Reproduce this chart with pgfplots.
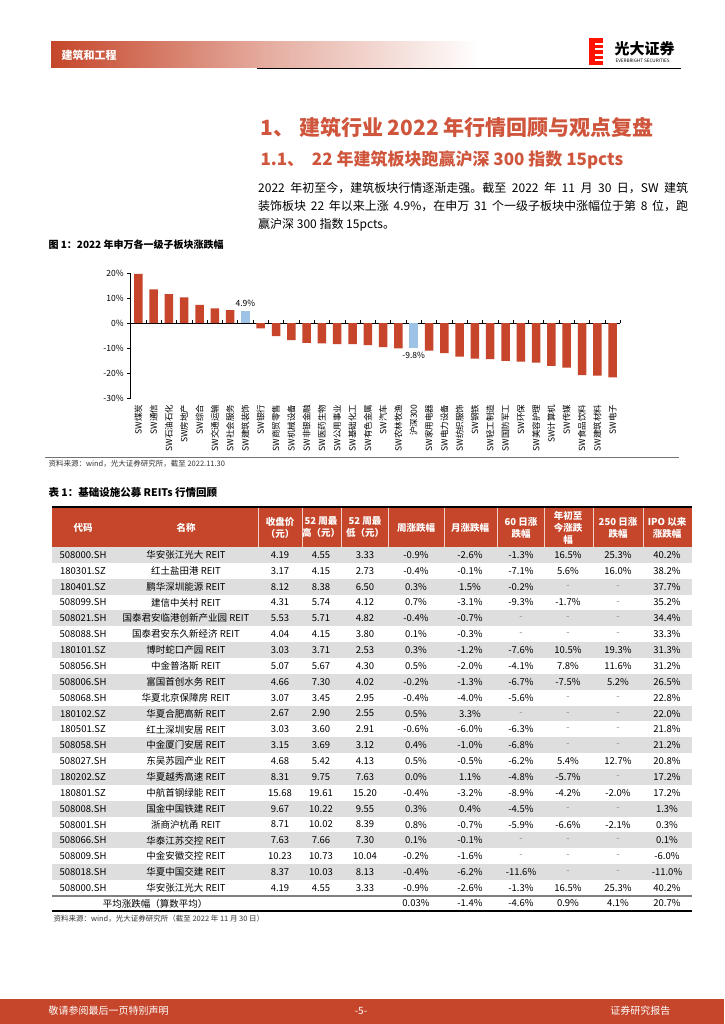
\documentclass[border=0pt]{standalone}
\usepackage{pgfplots}
\pgfplotsset{compat=1.18}
\usepackage{fontspec}
\setmainfont{Noto Sans CJK SC}
\XeTeXlinebreaklocale "zh"
\XeTeXlinebreakskip=0pt plus 1pt

\definecolor{barred}{RGB}{199,69,42}
\definecolor{barblue}{RGB}{157,195,230}
\definecolor{hdrred}{RGB}{197,70,42}
\definecolor{titlered}{RGB}{207,86,60}
\definecolor{rowgray}{RGB}{222,222,222}

\newcommand\fs[1]{\fontsize{#1}{#1}\selectfont}
\newcommand\NA{\textcolor{black!45}{-}}

\begin{document}
\begin{tikzpicture}[x=1pt,y=1pt]
\useasboundingbox (0,0) rectangle (724,-1024);
\fill[white] (0,0) rectangle (724,-1024);

% page header
\shade[left color=hdrred, right color=white, middle color=hdrred!45] (51,-42) rectangle (480,-68);
\node[anchor=west, text=white, font=\fs{11}\bfseries] at (58,-55) {建筑和工程};
\draw[line width=1pt] (257,-69) -- (681,-69);
\fill[red!85!orange] (589,-38) rectangle (603,-65);
\foreach \yy in {-43,-48.5,-54,-59.5}
  \fill[white] (595,\yy) rectangle (603,\yy-1.6);
\node[anchor=west, font=\fs{15}\bfseries] at (611,-49) {光大证券};
\node[anchor=west, font=\fs{4.6}] at (612,-60.5) {EVERBRIGHT SECURITIES};

% headings and text
\node[anchor=west, text=titlered, font=\fs{21}\bfseries] at (257,-128) {1、 建筑行业 2022 年行情回顾与观点复盘};
\node[anchor=west, text=titlered, font=\fs{17}\bfseries] at (257,-160) {1.1、\ \ 22 年建筑板块跑赢沪深 300 指数 15pcts};
\node[anchor=base west, font=\fs{12}, inner sep=0pt] at (258,-193) {\makebox[430pt][s]{2022 年初至今，建筑板块行情逐渐走强。截至 2022 年 11 月 30 日，SW 建筑}};
\node[anchor=base west, font=\fs{12}, inner sep=0pt] at (258,-211) {\makebox[430pt][s]{装饰板块 22 年以来上涨 4.9\%，在申万 31 个一级子板块中涨幅位于第 8 位，跑}};
\node[anchor=base west, font=\fs{12}, inner sep=0pt] at (258,-229) {赢沪深 300 指数 15pcts。};

% figure 1
\node[anchor=west, font=\fs{10}\bfseries] at (45,-245) {图 1：2022 年申万各一级子板块涨跌幅};

\begin{axis}[
  at={(138.3pt,-323pt)}, anchor=origin,
  scale only axis, width=489.6pt, height=125pt,
  xmin=-0.5, xmax=31.5, ymin=-30, ymax=20,
  enlargelimits=false, clip=false,
  axis x line=middle, axis y line=left,
  axis line style={-, black, line width=0.7pt},
  ytick={-30,-20,-10,0,10,20},
  yticklabels={-30\%,-20\%,-10\%,0\%,10\%,20\%},
  yticklabel style={font=\fs{8.5}, text=black},
  ytick style={black, line width=0.6pt},
  major tick length=3.5pt,
  tick align=outside,
  xtick={0,...,31},
  xticklabels={SW煤炭,SW通信,SW石油石化,SW房地产,SW综合,SW交通运输,SW社会服务,SW建筑装饰,SW银行,SW商贸零售,SW机械设备,SW非银金融,SW医药生物,SW公用事业,SW基础化工,SW有色金属,SW汽车,SW农林牧渔,沪深300,SW家用电器,SW电力设备,SW纺织服饰,SW钢铁,SW轻工制造,SW国防军工,SW环保,SW美容护理,SW计算机,SW传媒,SW食品饮料,SW建筑材料,SW电子},
  xticklabel style={rotate=90, anchor=east, font=\fs{8.5}, inner sep=1pt},
  xticklabel shift=77pt,
  xtick style={draw=none},
  extra x ticks={-0.5,0.5,...,31.5},
  extra x tick labels={},
  extra x tick style={xtick style={draw=black, line width=0.6pt}, tick align=inside},
  ybar, bar width=8.5pt,
]
\addplot[fill=barred, draw=none, bar shift=0pt] coordinates {
  (0,19.7) (1,13.5) (2,11.6) (3,10.3) (4,7.3) (5,5.9) (6,5.2)
  (8,-2.1) (9,-5.2) (10,-6.8) (11,-7.9) (12,-8.1) (13,-8.4) (14,-8.4)
  (15,-8.8) (16,-9.6) (17,-10.1) (19,-11.0) (20,-12.0) (21,-13.4)
  (22,-14.2) (23,-14.4) (24,-15.1) (25,-15.4) (26,-15.8) (27,-17.1)
  (28,-17.8) (29,-20.8) (30,-21.0) (31,-21.7)
};
\addplot[fill=barblue, draw=none, bar shift=0pt,
  nodes near coords, point meta=explicit symbolic,
  nodes near coords style={font=\fs{8.5}, text=black, anchor=south, yshift=1pt}] coordinates {
  (7,4.9) [4.9\%]
};
\addplot[fill=barblue, draw=none, bar shift=0pt,
  nodes near coords, point meta=explicit symbolic,
  nodes near coords style={font=\fs{8.5}, text=black, anchor=north, yshift=-1pt}] coordinates {
  (18,-9.8) [-9.8\%]
};
\end{axis}

\draw[black!55, line width=1pt] (45,-457) -- (679,-457);
\node[anchor=west, font=\fs{7.5}, text=black!80] at (45,-464) {资料来源：wind，光大证券研究所，截至 2022.11.30};

% table 1
\node[anchor=west, font=\fs{10.5}\bfseries] at (45,-493) {表 1：基础设施公募 REITs 行情回顾};
\fill[hdrred] (52,-507.5) rectangle (692,-547);
\draw[line width=1.3pt] (52,-507) -- (692,-507);
\foreach \xx in {258,302,341,388,444,497,544,593,643}
  \draw[white!75!hdrred, line width=0.6pt] (\xx,-508) -- (\xx,-547);
\begin{scope}[font=\fontsize{9.5}{12}\selectfont\bfseries, text=white, align=center]
\node at (83,-527.5) {代码};
\node at (186,-527.5) {名称};
\node at (280,-527.5) {收盘价\\（元）};
\node at (321,-527.5) {52 周最\\高（元）};
\node at (365,-527.5) {52 周最\\低（元）};
\node at (416,-527.5) {周涨跌幅};
\node at (470,-527.5) {月涨跌幅};
\node at (521,-527.5) {60 日涨\\跌幅};
\node at (568,-527.5) {年初至\\今涨跌\\幅};
\node at (618,-527.5) {250 日涨\\跌幅};
\node at (667,-527.5) {IPO 以来\\涨跌幅};
\end{scope}

\begin{scope}[font=\fs{9.5}]
\foreach \q/\ca/\cb/\cc/\cd/\ce/\cf/\cg/\ch/\ci/\cj/\ck in {
 1/508000.SH/华安张江光大 REIT/4.19/4.55/3.33/-0.9\%/-2.6\%/-1.3\%/16.5\%/25.3\%/40.2\%,
 2/180301.SZ/红土盐田港 REIT/3.17/4.15/2.73/-0.4\%/-0.1\%/-7.1\%/5.6\%/16.0\%/38.2\%,
 3/180401.SZ/鹏华深圳能源 REIT/8.12/8.38/6.50/0.3\%/1.5\%/-0.2\%/\NA/\NA/37.7\%,
 4/508099.SH/建信中关村 REIT/4.31/5.74/4.12/0.7\%/-3.1\%/-9.3\%/-1.7\%/\NA/35.2\%,
 5/508021.SH/国泰君安临港创新产业园 REIT/5.53/5.71/4.82/-0.4\%/-0.7\%/\NA/\NA/\NA/34.4\%,
 6/508088.SH/国泰君安东久新经济 REIT/4.04/4.15/3.80/0.1\%/-0.3\%/\NA/\NA/\NA/33.3\%,
 7/180101.SZ/博时蛇口产园 REIT/3.03/3.71/2.53/0.3\%/-1.2\%/-7.6\%/10.5\%/19.3\%/31.3\%,
 8/508056.SH/中金普洛斯 REIT/5.07/5.67/4.30/0.5\%/-2.0\%/-4.1\%/7.8\%/11.6\%/31.2\%,
 9/508006.SH/富国首创水务 REIT/4.66/7.30/4.02/-0.2\%/-1.3\%/-6.7\%/-7.5\%/5.2\%/26.5\%,
 10/508068.SH/华夏北京保障房 REIT/3.07/3.45/2.95/-0.4\%/-4.0\%/-5.6\%/\NA/\NA/22.8\%,
 11/180102.SZ/华夏合肥高新 REIT/2.67/2.90/2.55/0.5\%/3.3\%/\NA/\NA/\NA/22.0\%,
 12/180501.SZ/红土深圳安居 REIT/3.03/3.60/2.91/-0.6\%/-6.0\%/-6.3\%/\NA/\NA/21.8\%,
 13/508058.SH/中金厦门安居 REIT/3.15/3.69/3.12/0.4\%/-1.0\%/-6.8\%/\NA/\NA/21.2\%,
 14/508027.SH/东吴苏园产业 REIT/4.68/5.42/4.13/0.5\%/-0.5\%/-6.2\%/5.4\%/12.7\%/20.8\%,
 15/180202.SZ/华夏越秀高速 REIT/8.31/9.75/7.63/0.0\%/1.1\%/-4.8\%/-5.7\%/\NA/17.2\%,
 16/180801.SZ/中航首钢绿能 REIT/15.68/19.61/15.20/-0.4\%/-3.2\%/-8.9\%/-4.2\%/-2.0\%/17.2\%,
 17/508008.SH/国金中国铁建 REIT/9.67/10.22/9.55/0.3\%/0.4\%/-4.5\%/\NA/\NA/1.3\%,
 18/508001.SH/浙商沪杭甬 REIT/8.71/10.02/8.39/0.8\%/-0.7\%/-5.9\%/-6.6\%/-2.1\%/0.3\%,
 19/508066.SH/华泰江苏交控 REIT/7.63/7.66/7.30/0.1\%/-0.1\%/\NA/\NA/\NA/0.1\%,
 20/508009.SH/中金安徽交控 REIT/10.23/10.73/10.04/-0.2\%/-1.6\%/\NA/\NA/\NA/-6.0\%,
 21/508018.SH/华夏中国交建 REIT/8.37/10.03/8.13/-0.4\%/-6.2\%/-11.6\%/\NA/\NA/-11.0\%,
 22/508000.SH/华安张江光大 REIT/4.19/4.55/3.33/-0.9\%/-2.6\%/-1.3\%/16.5\%/25.3\%/40.2\%}{
  \pgfmathsetmacro\yc{-547-(\q-0.5)*15.86}
  \ifodd\q\relax \fill[rowgray] (52,\yc+7.93) rectangle (692,\yc-7.93); \fi
  \node at (83,\yc) {\ca};
  \node at (186,\yc) {\cb};
  \node at (280,\yc) {\cc};
  \node at (321,\yc) {\cd};
  \node at (365,\yc) {\ce};
  \node at (416,\yc) {\cf};
  \node at (470,\yc) {\cg};
  \node at (521,\yc) {\ch};
  \node at (568,\yc) {\ci};
  \node at (618,\yc) {\cj};
  \node at (667,\yc) {\ck};
}
\draw[black!50, line width=1.3pt] (52,-896) -- (692,-896);
\node at (155,-903.5) {平均涨跌幅（算数平均）};
\node at (416,-903.5) {0.03\%};
\node at (470,-903.5) {-1.4\%};
\node at (521,-903.5) {-4.6\%};
\node at (568,-903.5) {0.9\%};
\node at (618,-903.5) {4.1\%};
\node at (667,-903.5) {20.7\%};
\end{scope}
\draw[line width=1.3pt] (52,-911) -- (692,-911);
\node[anchor=west, font=\fs{7.5}, text=black!80] at (50,-918.5) {资料来源：wind，光大证券研究所（截至 2022 年 11 月 30 日）};

% page footer
\fill[hdrred] (0,-999) rectangle (724,-1024);
\node[anchor=west, text=white, font=\fs{10}] at (45,-1011) {敬请参阅最后一页特别声明};
\node[text=white, font=\fs{10}] at (361,-1011) {-5-};
\node[anchor=east, text=white, font=\fs{10}] at (674,-1011) {证券研究报告};
\end{tikzpicture}
\end{document}
